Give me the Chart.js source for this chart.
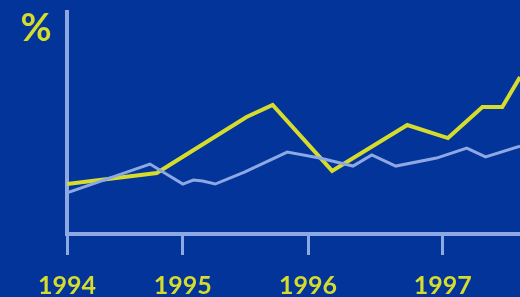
<!DOCTYPE html>
<html>
<head>
<meta charset="utf-8">
<script src="https://cdn.jsdelivr.net/npm/chart.js@4.4.0/dist/chart.umd.min.js"></script>
<style>
  html, body { margin: 0; padding: 0; background: #02349a; }
  canvas { display: block; }
</style>
</head>
<body>
<canvas id="chart" width="520" height="297"></canvas>
<script>
// x values are months counted from the start of 1994
const tickMonths = [0, 11.1, 23.1, 36];
const tickLabels = ['1994', '1995', '1996', '1997'];

// yellow series
const yellowMonths = [0, 8.6, 17.2, 19.7, 25.4, 32.6, 36.5, 39.8, 41.7, 43.4];
const yellowValues = [2.25, 2.75, 5.27, 5.81, 2.84, 4.91, 4.32, 5.72, 5.72, 7.07];

// light blue series
const blueMonths = [0, 7.95, 11.1, 12.1, 13.0, 14.2, 17.0, 21.1, 24.2, 27.4, 29.2, 31.5, 35.4, 38.3, 40.1, 43.4];
const blueValues = [1.85, 3.15, 2.25, 2.43, 2.39, 2.25, 2.79, 3.69, 3.42, 3.06, 3.56, 3.06, 3.42, 3.87, 3.47, 3.96];

const yellow = '#d6dc2c';
const lightBlue = '#8ea8e4';

// Turn two arrays into {x, y} points
function toPoints(xs, ys) {
    return xs.map((x, i) => ({ x: x, y: ys[i] }));
}

// Draws the "%" unit label at the top left
const unitLabel = {
    id: 'unitLabel',
    afterDraw(chart) {
        const ctx = chart.ctx;
        ctx.save();
        ctx.fillStyle = yellow;
        ctx.font = 'bold 38px Lato';
        ctx.textAlign = 'center';
        ctx.textBaseline = 'middle';
        ctx.fillText('%', 36, 29);
        ctx.restore();
    }
};

new Chart(document.querySelector('#chart').getContext('2d'), {
    type: 'line',
    data: {
        datasets: [
            {
                label: 'blue',
                data: toPoints(blueMonths, blueValues),
                borderColor: lightBlue,
                borderWidth: 3,
                pointRadius: 0,
                tension: 0
            },
            {
                label: 'yellow',
                data: toPoints(yellowMonths, yellowValues),
                borderColor: yellow,
                borderWidth: 4,
                pointRadius: 0,
                tension: 0
            }
        ]
    },
    options: {
        responsive: false,
        animation: false,
        layout: { padding: { top: 12, left: 0, right: 0, bottom: 0 } },
        plugins: {
            legend: { display: false },
            tooltip: { enabled: false }
        },
        scales: {
            x: {
                type: 'linear',
                min: 0,
                max: 43.4,
                afterBuildTicks: scale => {
                    scale.ticks = tickMonths.map(v => ({ value: v }));
                },
                afterFit: scale => { scale.height = 63; },
                ticks: {
                    autoSkip: false,
                    maxRotation: 0,
                    color: yellow,
                    padding: 16,
                    font: { family: 'Lato', weight: 'bold', size: 25 },
                    callback: (value, index) => tickLabels[index]
                },
                grid: {
                    drawOnChartArea: false,
                    drawTicks: true,
                    tickLength: 21,
                    color: lightBlue,
                    lineWidth: 3
                },
                border: { display: true, color: lightBlue, width: 4 }
            },
            y: {
                type: 'linear',
                min: 0,
                max: 10,
                afterFit: scale => { scale.width = 67; },
                ticks: { display: false },
                grid: { display: false },
                border: { display: true, color: lightBlue, width: 4 }
            }
        }
    },
    plugins: [unitLabel]
});
</script>
</body>
</html>
